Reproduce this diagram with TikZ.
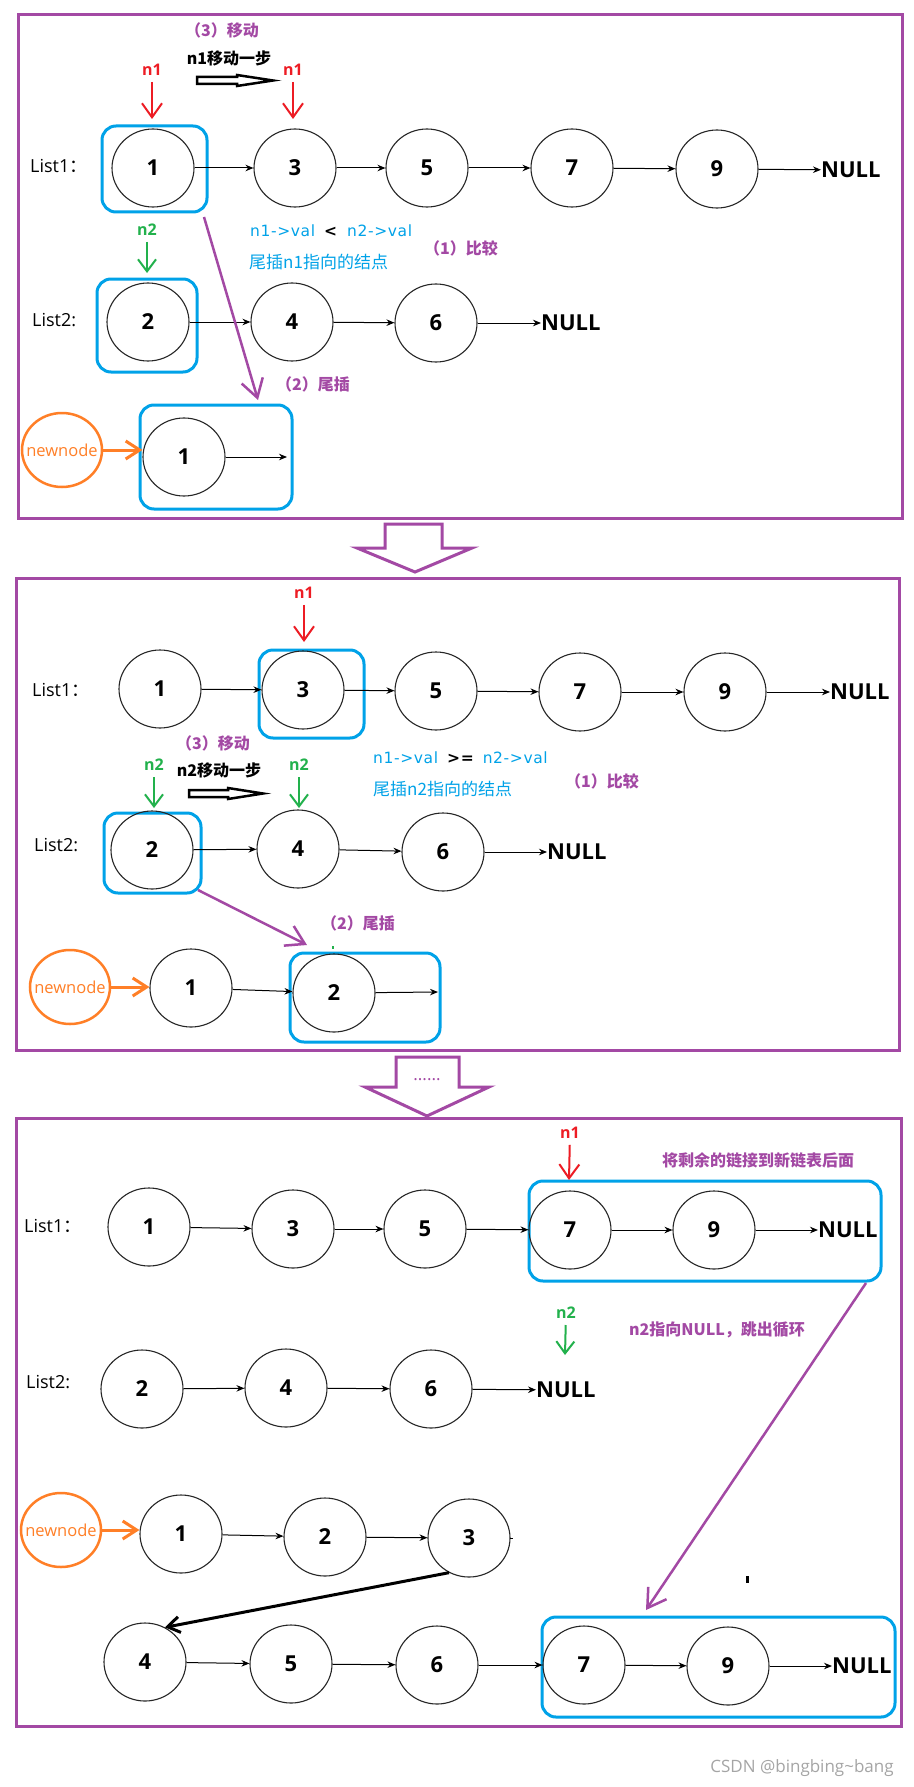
\documentclass[tikz,border=0pt]{standalone}
\usepackage{fontspec}
\setmainfont{Open Sans}
\newfontfamily\cjk{Noto Sans CJK SC}
\newfontfamily\dejavu[LetterSpace=4]{DejaVu Sans}
\usetikzlibrary{shapes.geometric,arrows.meta}
\definecolor{cpurple}{RGB}{163,73,164}
\definecolor{cblue}{RGB}{0,162,232}
\definecolor{cred}{RGB}{237,28,36}
\definecolor{cgreen}{RGB}{34,177,76}
\definecolor{corange}{RGB}{255,127,39}
\definecolor{cgray}{RGB}{165,165,165}
\tikzset{
  lnode/.style={draw=black!85, line width=1.1pt, ellipse, minimum width=82pt, minimum height=78pt, inner sep=0pt, font=\fontsize{22}{24}\selectfont\bfseries},
  nulltxt/.style={anchor=west, inner sep=0pt, font=\fontsize{22}{24}\selectfont\bfseries},
  link/.style={draw=black, line width=1pt, -{Stealth[length=8pt,width=6.5pt]}},
  frame/.style={draw=cpurple, line width=3pt},
  hbox/.style={draw=cblue, line width=3pt, rounded corners=14pt, inner sep=0pt},
  listlbl/.style={anchor=west, inner sep=0pt, font=\fontsize{18}{20}\selectfont},
  redlbl/.style={inner sep=0pt, text=cred, font=\fontsize{16}{18}\selectfont\bfseries},
  greenlbl/.style={inner sep=0pt, text=cgreen, font=\fontsize{16}{18}\selectfont\bfseries},
  redptr/.style={draw=cred, line width=2pt, shorten <=6pt, -{Straight Barb[length=14pt,width=20pt]}},
  greenptr/.style={draw=cgreen, line width=2pt, shorten <=6pt, -{Straight Barb[length=12pt,width=18pt]}},
  steplbl/.style={inner sep=0pt, text=cpurple, font=\cjk\bfseries\fontsize{16}{18}\selectfont},
  movelbl/.style={inner sep=0pt, text=black, font=\cjk\bfseries\fontsize{16}{18}\selectfont},
  bluetxt/.style={anchor=west, inner sep=0pt, text=cblue, font=\dejavu\fontsize{15.5}{17}\selectfont},
  bluecjk/.style={anchor=west, inner sep=0pt, text=cblue, font=\cjk\fontsize{17}{19}\selectfont},
  newn/.style={draw=corange, line width=2.5pt, ellipse, minimum width=80pt, minimum height=74pt, inner sep=0pt, text=corange, font=\fontsize{16.5}{18}\selectfont},
  oarrow/.style={draw=corange, line width=3pt, -{Straight Barb[length=14pt,width=18pt]}},
  parrow/.style={draw=cpurple, line width=2.5pt, -{Straight Barb[length=18pt,width=22pt]}},
  barrow/.style={draw=black, line width=3pt, -{Straight Barb[length=12pt,width=16pt]}},
  hollow/.style={draw=black, line width=2.5pt},
  bigarrow/.style={draw=cpurple, line width=3pt}
}
\begin{document}
\begin{tikzpicture}[x=1pt,y=-1pt]
\useasboundingbox[fill=white] (0,0) rectangle (913,1787);

% ================= Panel 1 =================
\draw[frame] (18,15) rectangle (902,518);
\node[hbox, minimum width=105pt, minimum height=86pt] (p1box1) at (154.5,169) {};
\node[hbox, minimum width=100pt, minimum height=93pt] (p1box2) at (147,325.5) {};
\node[hbox, minimum width=152pt, minimum height=104pt] (p1box3) at (216,457) {};

\node[lnode] (p1a1) at (153,168) {1};
\node[lnode] (p1a3) at (295,168) {3};
\node[lnode] (p1a5) at (427,168) {5};
\node[lnode] (p1a7) at (572,168) {7};
\node[lnode] (p1a9) at (717,169) {9};
\node[nulltxt] (p1an) at (821,170) {NULL};
\draw[link] (p1a1) -- (p1a3);
\draw[link] (p1a3) -- (p1a5);
\draw[link] (p1a5) -- (p1a7);
\draw[link] (p1a7) -- (p1a9);
\draw[link] (p1a9) -- (p1an);

\node[lnode] (p1b2) at (148,322) {2};
\node[lnode] (p1b4) at (292,322) {4};
\node[lnode] (p1b6) at (436,323) {6};
\node[nulltxt] (p1bn) at (541,323) {NULL};
\draw[link] (p1b2) -- (p1b4);
\draw[link] (p1b4) -- (p1b6);
\draw[link] (p1b6) -- (p1bn);

\node[newn] (p1new) at (62,450) {\makebox[0pt]{newnode}};
\node[lnode] (p1c1) at (184,457) {1};
\coordinate (p1c1e) at (287,457);
\draw[link] (p1c1) -- (p1c1e);
\draw[oarrow] (p1new.east) -- (p1new.east -| p1c1.west);

\node[listlbl] (p1l1) at (30,166) {List1\cjk：};
\node[listlbl] (p1l2) at (32,320) {List2:};

\node[steplbl] (p1s3) at (222,30) {（3）移动};
\node[movelbl] (p1mv) at (229,58) {n1移动一步};
\draw[hollow] (197,77) -- (237,77) -- (237,75) -- (273,80.5) -- (237,86) -- (237,84) -- (197,84) -- cycle;
\node[redlbl] (p1n1a) at (152,70) {n1};
\coordinate (p1n1at) at (152,119);
\draw[redptr] (p1n1a) -- (p1n1at);
\node[redlbl] (p1n1b) at (293,70) {n1};
\coordinate (p1n1bt) at (293,119);
\draw[redptr] (p1n1b) -- (p1n1bt);

\node[bluetxt] (p1cmp) at (250,231) {n1->val\hspace{9pt}{\color{black}\bfseries <}\hspace{10pt}n2->val};
\node[bluecjk] (p1tail) at (249,262) {尾插n1指向的结点};
\node[steplbl] (p1s1) at (461,248) {（1）比较};
\node[greenlbl] (p1n2) at (147,230) {n2};
\coordinate (p1n2t) at (147,273);
\draw[greenptr] (p1n2) -- (p1n2t);
\node[steplbl] (p1s2) at (313,384) {（2）尾插};
\coordinate (p1pa) at (204,217);
\coordinate (p1pb) at (258,400);
\draw[parrow] (p1pa) -- (p1pb);

% big arrow 1
\draw[bigarrow] (385,524) -- (442,524) -- (442,548) -- (472,548) -- (415,572) -- (357,548) -- (385,548) -- cycle;

% ================= Panel 2 =================
\draw[frame] (16,578) rectangle (899,1050);
\node[hbox, minimum width=105pt, minimum height=88pt] (p2box1) at (311.5,694) {};
\node[hbox, minimum width=97pt, minimum height=80pt] (p2box2) at (152.5,853) {};
\node[hbox, minimum width=150pt, minimum height=89pt] (p2box3) at (365,997.5) {};

\node[lnode] (p2a1) at (160,689) {1};
\node[lnode] (p2a3) at (303,690) {3};
\node[lnode] (p2a5) at (436,691) {5};
\node[lnode] (p2a7) at (580,692) {7};
\node[lnode] (p2a9) at (725,692) {9};
\node[nulltxt] (p2an) at (830,692) {NULL};
\draw[link] (p2a1) -- (p2a3);
\draw[link] (p2a3) -- (p2a5);
\draw[link] (p2a5) -- (p2a7);
\draw[link] (p2a7) -- (p2a9);
\draw[link] (p2a9) -- (p2an);

\node[lnode] (p2b2) at (152,850) {2};
\node[lnode] (p2b4) at (298,849) {4};
\node[lnode] (p2b6) at (443,852) {6};
\node[nulltxt] (p2bn) at (547,852) {NULL};
\draw[link] (p2b2) -- (p2b4);
\draw[link] (p2b4) -- (p2b6);
\draw[link] (p2b6) -- (p2bn);

\node[newn] (p2new) at (70,987) {\makebox[0pt]{newnode}};
\node[lnode] (p2c1) at (191,988) {1};
\node[lnode] (p2c2) at (334,993) {2};
\coordinate (p2c2e) at (438,992);
\draw[oarrow] (p2new.east) -- (p2new.east -| p2c1.west);
\draw[link] (p2c1) -- (p2c2);
\draw[link] (p2c2) -- (p2c2e);

\node[listlbl] (p2l1) at (32,690) {List1\cjk：};
\node[listlbl] (p2l2) at (34,845) {List2:};

\node[redlbl] (p2n1) at (304,593) {n1};
\coordinate (p2n1t) at (304,642);
\draw[redptr] (p2n1) -- (p2n1t);

\node[steplbl] (p2s3) at (213,743) {（3）移动};
\node[movelbl] (p2mv) at (219,770) {n2移动一步};
\draw[hollow] (189,790) -- (228,790) -- (228,788) -- (263,793.5) -- (228,799) -- (228,797) -- (189,797) -- cycle;
\node[greenlbl] (p2n2a) at (154,765) {n2};
\coordinate (p2n2at) at (154,808);
\draw[greenptr] (p2n2a) -- (p2n2at);
\node[greenlbl] (p2n2b) at (299,765) {n2};
\coordinate (p2n2bt) at (299,808);
\draw[greenptr] (p2n2b) -- (p2n2bt);

\node[bluetxt] (p2cmp) at (373,758) {n1->val\hspace{9pt}{\color{black}\bfseries >=}\hspace{9pt}n2->val};
\node[bluecjk] (p2tail) at (373,789) {尾插n2指向的结点};
\node[steplbl] (p2s1) at (602,781) {（1）比较};
\node[steplbl] (p2s2) at (358,923) {（2）尾插};
\coordinate (p2pa) at (198,890);
\coordinate (p2pb) at (307,945);
\draw[parrow] (p2pa) -- (p2pb);
\fill[cgreen] (332,946) rectangle (334,949);

% big arrow 2
\draw[bigarrow] (396,1057) -- (459,1057) -- (459,1087) -- (489,1087) -- (427,1116) -- (365,1087) -- (396,1087) -- cycle;
\node[inner sep=0pt, text=cpurple, font=\fontsize{17}{19}\selectfont] (dots) at (427,1080) {......};

% ================= Panel 3 =================
\draw[frame] (16,1118) rectangle (901,1726);
\node[hbox, minimum width=352pt, minimum height=100pt] (p3box1) at (705,1231) {};
\node[hbox, minimum width=353pt, minimum height=100pt] (p3box2) at (718.5,1667) {};

\node[lnode] (p3a1) at (149,1227) {1};
\node[lnode] (p3a3) at (293,1229) {3};
\node[lnode] (p3a5) at (425,1229) {5};
\node[lnode] (p3a7) at (570,1230) {7};
\node[lnode] (p3a9) at (714,1230) {9};
\node[nulltxt] (p3an) at (818,1230) {NULL};
\draw[link] (p3a1) -- (p3a3);
\draw[link] (p3a3) -- (p3a5);
\draw[link] (p3a5) -- (p3a7);
\draw[link] (p3a7) -- (p3a9);
\draw[link] (p3a9) -- (p3an);

\node[lnode] (p3b2) at (142,1389) {2};
\node[lnode] (p3b4) at (286,1388) {4};
\node[lnode] (p3b6) at (431,1389) {6};
\node[nulltxt] (p3bn) at (536,1390) {NULL};
\draw[link] (p3b2) -- (p3b4);
\draw[link] (p3b4) -- (p3b6);
\draw[link] (p3b6) -- (p3bn);

\node[newn] (p3new) at (61,1530) {\makebox[0pt]{newnode}};
\node[lnode] (p3c1) at (181,1534) {1};
\node[lnode] (p3c2) at (325,1537) {2};
\node[lnode] (p3c3) at (469,1538) {3};
\draw[oarrow] (p3new.east) -- (p3new.east -| p3c1.west);
\draw[link] (p3c1) -- (p3c2);
\draw[link] (p3c2) -- (p3c3);
\draw[line width=1pt] (510,1538) -- (513,1538);

\node[lnode] (p3d4) at (145,1662) {4};
\node[lnode] (p3d5) at (291,1664) {5};
\node[lnode] (p3d6) at (437,1665) {6};
\node[lnode] (p3d7) at (584,1665) {7};
\node[lnode] (p3d9) at (728,1666) {9};
\node[nulltxt] (p3dn) at (832,1666) {NULL};
\draw[link] (p3d4) -- (p3d5);
\draw[link] (p3d5) -- (p3d6);
\draw[link] (p3d6) -- (p3d7);
\draw[link] (p3d7) -- (p3d9);
\draw[link] (p3d9) -- (p3dn);

\draw[barrow] (p3c3.240) -- (p3d4.60);

\node[listlbl] (p3l1) at (24,1226) {List1\cjk：};
\node[listlbl] (p3l2) at (26,1382) {List2:};

\node[redlbl] (p3n1) at (570,1133) {n1};
\coordinate (p3n1t) at (569,1180);
\draw[redptr] (p3n1) -- (p3n1t);
\node[steplbl] (p3rem) at (758,1160) {将剩余的链接到新链表后面};
\node[greenlbl] (p3n2) at (566,1313) {n2};
\coordinate (p3n2t) at (565,1355);
\draw[greenptr] (p3n2) -- (p3n2t);
\node[steplbl] (p3brk) at (717,1330) {n2指向NULL，跳出循环};
\coordinate (p3pa) at (866,1283);
\coordinate (p3pb) at (646,1610);
\draw[parrow] (p3pa) -- (p3pb);
\fill (746,1576) rectangle (748.5,1583);

\node[inner sep=0pt, text=cgray, font=\fontsize{17}{19}\selectfont] (wm) at (802,1768) {CSDN @bingbing\textasciitilde bang};
\end{tikzpicture}
\end{document}
